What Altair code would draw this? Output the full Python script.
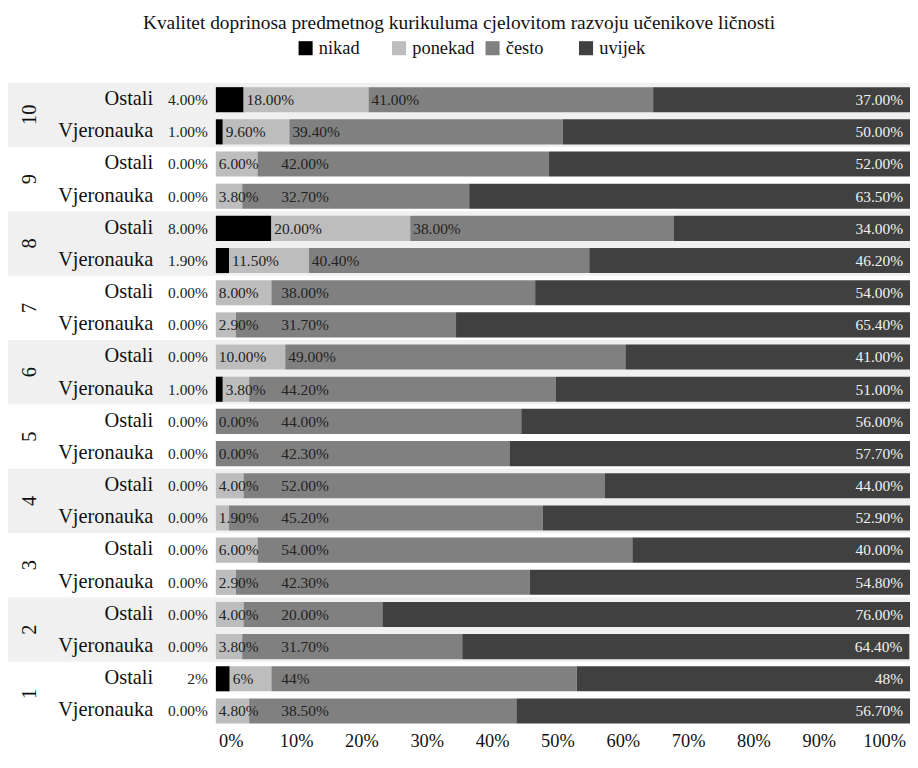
import altair as alt
import pandas as pd

FONT = "Liberation Serif"

title_text = "Kvalitet doprinosa predmetnog kurikuluma cjelovitom razvoju učenikove ličnosti"
categories = ["nikad", "ponekad", "često", "uvijek"]
colors = ["#000000", "#bdbdbd", "#808080", "#404040"]

groups = ["10", "10", "9", "9", "8", "8", "7", "7", "6", "6",
          "5", "5", "4", "4", "3", "3", "2", "2", "1", "1"]
subjects = ["Ostali", "Vjeronauka"] * 10
nikad = [4.0, 1.0, 0.0, 0.0, 8.0, 1.9, 0.0, 0.0, 0.0, 1.0,
         0.0, 0.0, 0.0, 0.0, 0.0, 0.0, 0.0, 0.0, 2.0, 0.0]
ponekad = [18.0, 9.6, 6.0, 3.8, 20.0, 11.5, 8.0, 2.9, 10.0, 3.8,
           0.0, 0.0, 4.0, 1.9, 6.0, 2.9, 4.0, 3.8, 6.0, 4.8]
cesto = [41.0, 39.4, 42.0, 32.7, 38.0, 40.4, 38.0, 31.7, 49.0, 44.2,
         44.0, 42.3, 52.0, 45.2, 54.0, 42.3, 20.0, 31.7, 44.0, 38.5]
uvijek = [37.0, 50.0, 52.0, 63.5, 34.0, 46.2, 54.0, 65.4, 41.0, 51.0,
          56.0, 57.7, 44.0, 52.9, 40.0, 54.8, 76.0, 64.4, 48.0, 56.7]
decimals = [2] * 18 + [0, 2]
x_ticks = [0, 0.1, 0.2, 0.3, 0.4, 0.5, 0.6, 0.7, 0.8, 0.9, 1.0]

records = []
for i in range(len(groups)):
    vals = [nikad[i], ponekad[i], cesto[i], uvijek[i]]
    start = 0.0
    for c, v in zip(categories, vals):
        records.append(dict(idx=i, group=groups[i], subject=subjects[i], cat=c,
                            start=start / 100, end=(start + v) / 100,
                            label=f"{v:.{decimals[i]}f}%"))
        start += v
df = pd.DataFrame(records)

band_df = pd.DataFrame({"gidx": list(range(10)), "group": groups[::2]})
tick_df = pd.DataFrame({"t": x_ticks})

W, H = 907, 647
X0 = 209

xscale = alt.Scale(domain=[0, 1], range=[X0, W], nice=False, zero=False)
yscale = alt.Scale(domain=[0, 20], reverse=True, nice=False, zero=False)

base = alt.Chart(df).transform_calculate(
    y0="datum.idx + 0.14", y1="datum.idx + 0.92", yc="datum.idx + 0.54"
)

bands = alt.Chart(band_df).transform_filter("datum.gidx % 2 == 0").transform_calculate(
    b0="datum.gidx * 2", b1="datum.gidx * 2 + 2"
).mark_rect(color="#f0f0f0").encode(
    x=alt.value(0), x2=alt.value(W),
    y=alt.Y("b0:Q", scale=yscale, axis=None), y2="b1:Q"
)

bars = base.transform_filter("datum.end > datum.start").mark_rect().encode(
    x=alt.X("start:Q", scale=xscale, axis=None),
    x2="end:Q",
    y=alt.Y("y0:Q", scale=yscale, axis=None),
    y2="y1:Q",
    color=alt.Color("cat:N", scale=alt.Scale(domain=categories, range=colors),
                    legend=alt.Legend(title=None, orient="none", direction="horizontal",
                                      columns=4, gridAlign="all",
                                      legendX=290, legendY=-44,
                                      symbolType="square", symbolSize=200,
                                      symbolStrokeWidth=0, labelFontSize=18.5,
                                      labelFont=FONT, labelColor="#111", labelLimit=0,
                                      labelOffset=4, columnPadding=8)),
)

# tick labels of the percentage axis
axis_layer = alt.Chart(tick_df).mark_point(opacity=0).encode(
    x=alt.X("t:Q", scale=alt.Scale(domain=[0, 1], range=[224, 881], nice=False, zero=False),
            axis=alt.Axis(values=x_ticks, format="%", labelFontSize=18.5, labelFont=FONT,
                          labelColor="#111", domain=False, ticks=False, grid=False,
                          labelLimit=0, labelBound=False,
                          labelFlush=False, labelPadding=6, title=None, orient="bottom")),
    y=alt.value(0),
)

txt = dict(font=FONT, fontSize=15.5, baseline="middle")

nikad_lbl = base.transform_filter("datum.cat == 'nikad'").mark_text(
    align="right", color="#222", **txt
).encode(x=alt.value(X0 - 8), y=alt.Y("yc:Q", scale=yscale), text="label:N")

ponekad_lbl = base.transform_filter("datum.cat == 'ponekad'").mark_text(
    align="left", dx=3, color="#222", **txt
).encode(x=alt.X("start:Q", scale=xscale, axis=None), y=alt.Y("yc:Q", scale=yscale), text="label:N")

cesto_lbl = base.transform_filter("datum.cat == 'često'").transform_calculate(
    lx="max(datum.start, 0.09)"
).mark_text(align="left", dx=3, color="#222", **txt).encode(
    x=alt.X("lx:Q", scale=xscale, axis=None), y=alt.Y("yc:Q", scale=yscale), text="label:N")

uvijek_lbl = base.transform_filter("datum.cat == 'uvijek'").mark_text(
    align="right", dx=-7, color="#f2f2f2", **txt
).encode(x=alt.X("end:Q", scale=xscale, axis=None), y=alt.Y("yc:Q", scale=yscale), text="label:N")

row_lbl = base.transform_filter("datum.cat == 'nikad'").mark_text(
    align="right", font=FONT, fontSize=20.5, baseline="middle", color="#111", dy=-1
).encode(x=alt.value(146), y=alt.Y("yc:Q", scale=yscale), text="subject:N")

group_lbl = alt.Chart(band_df).transform_calculate(gc="datum.gidx * 2 + 1").mark_text(
    angle=270, align="center", baseline="middle", font=FONT, fontSize=20.5, color="#111"
).encode(x=alt.value(22), y=alt.Y("gc:Q", scale=yscale), text="group:N")

chart = alt.layer(
    bands, bars, axis_layer, nikad_lbl, ponekad_lbl, cesto_lbl, uvijek_lbl, row_lbl, group_lbl
).resolve_scale(x="independent").properties(
    width=W, height=H,
    title=alt.TitleParams(title_text, font=FONT, fontSize=19.5, fontWeight="normal",
                          color="#111", anchor="middle", offset=5),
    padding={"left": 0, "top": 3, "right": 0, "bottom": 0},
).configure(font=FONT).configure_view(stroke=None)

chart.save("out.html", embed_options={"renderer": "svg", "actions": False})
